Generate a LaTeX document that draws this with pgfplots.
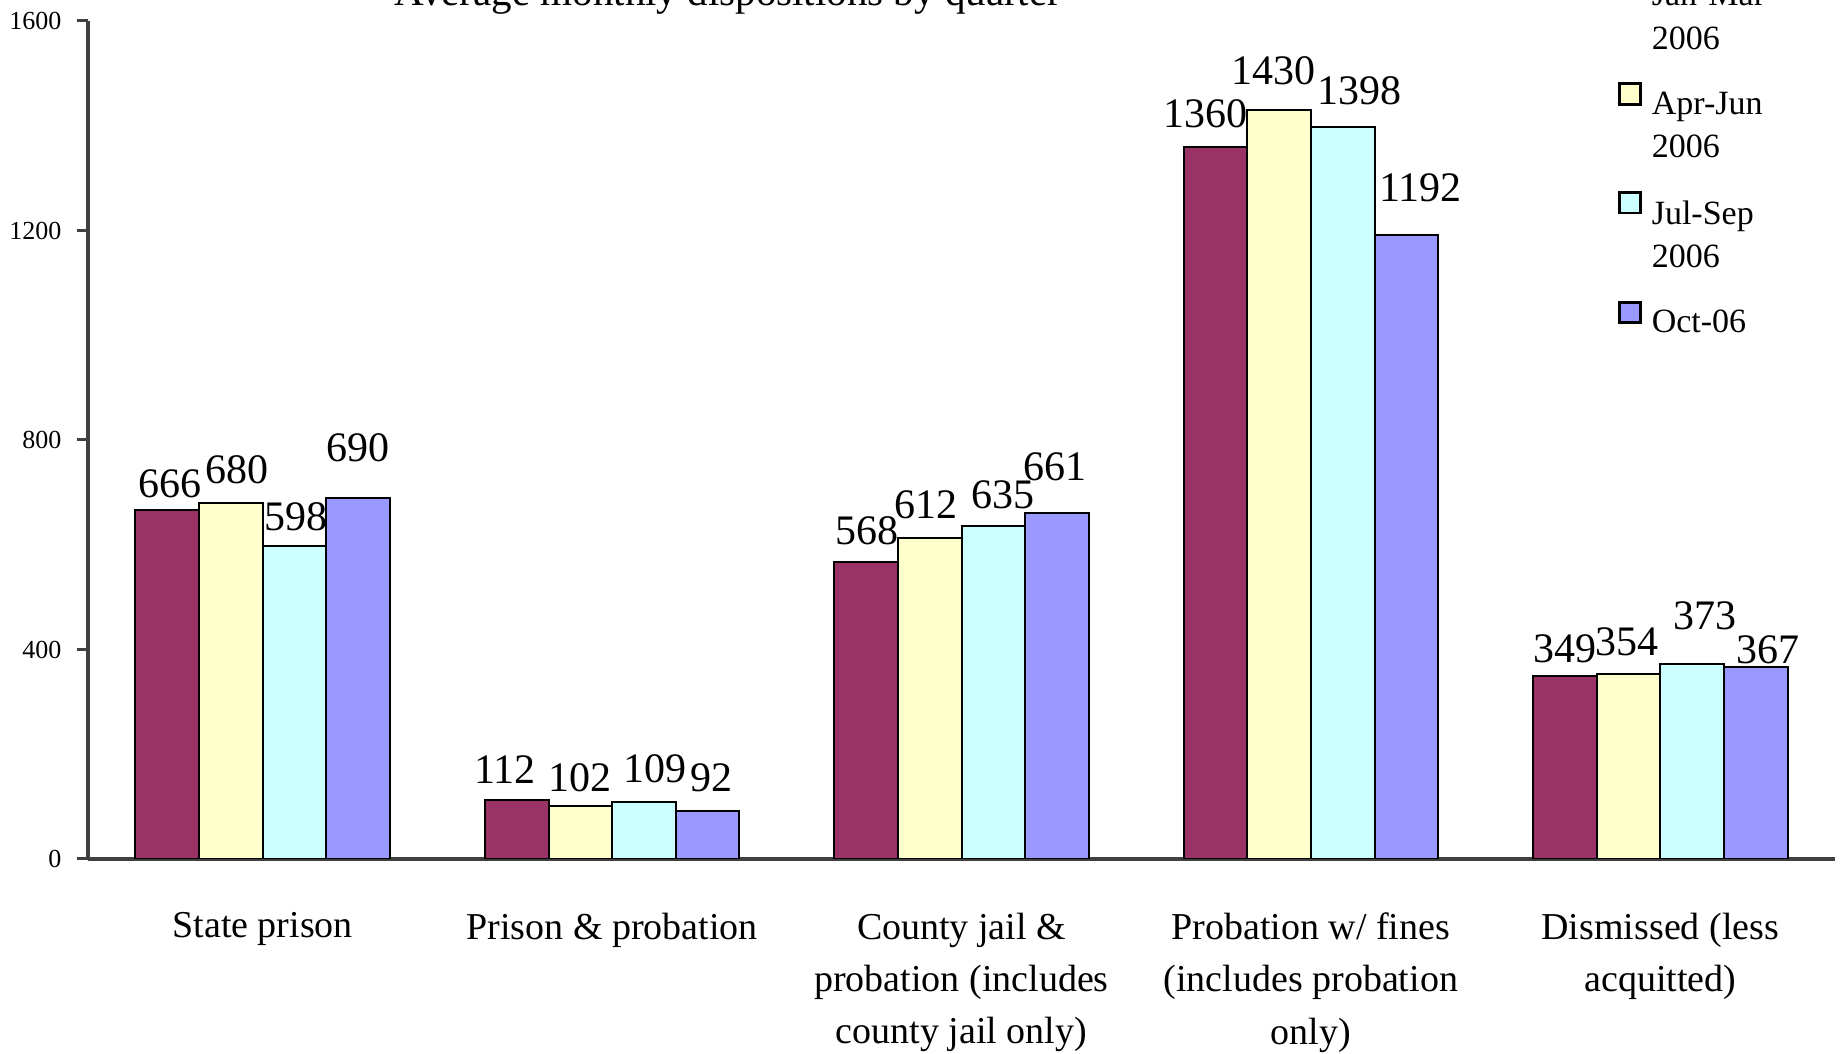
\documentclass[border=0pt]{standalone}
\usepackage{fontspec}
\setmainfont{Liberation Serif}
\usepackage{pgfplots}
\pgfplotsset{compat=1.18}
\definecolor{cA}{HTML}{993366}
\definecolor{cB}{HTML}{FFFFCC}
\definecolor{cC}{HTML}{CCFFFF}
\definecolor{cD}{HTML}{9999FF}
\definecolor{axgray}{HTML}{404040}
\begin{document}
\begin{tikzpicture}
\useasboundingbox (-44pt,-97.5pt) rectangle (877pt,429.5pt);
\begin{axis}[
  at={(0,0)}, anchor=south west,
  scale only axis, width=873.5pt, height=419pt,
  xmin=-0.5, xmax=4.5, ymin=0, ymax=1600,
  axis x line=bottom, axis y line=left,
  axis line style={axgray, line width=1.6pt, -},
  xtick={0,1,2,3,4},
  xticklabels={State prison, Prison \& probation, County jail \&\\probation (includes\\county jail only), Probation w/ fines\\(includes probation\\only), Dismissed (less\\acquitted)},
  x tick style={draw=none},
  xticklabel style={anchor=north, align=center, inner sep=0pt, yshift=-21.2pt,
    font=\fontsize{19}{26.2}\selectfont},
  ytick={0,400,800,1200,1600},
  y tick style={axgray, line width=1.5pt},
  tick align=outside, major tick length=5.5pt,
  yticklabel style={anchor=east, inner sep=0pt, xshift=-7.6pt, font=\fontsize{13}{15}\selectfont},
  /pgf/number format/assume math mode=true,
  /pgf/number format/1000 sep={},
  title={Average monthly dispositions by quarter},
  title style={at={(axis description cs:0.3663,1.0036)}, anchor=base, inner sep=0pt, yshift=0pt,
    font=\fontsize{20.5}{24}\selectfont},
  legend cell align=left,
  legend image code/.code={\draw[#1, line width=1.4pt] (0pt,-6.5pt) rectangle (10.3pt,3.8pt);},
  legend style={at={(axis description cs:0.8758,1.0566)}, anchor=north west,
    draw=none, fill=none, inner sep=0pt, row sep=15.2pt, column sep=5pt,
    font=\fontsize{17}{21.7}\selectfont,
    nodes={inner sep=0pt, align=left}, cells={anchor=north west}},
]
\addplot[ybar, bar width=31.8pt, bar shift=-47.7pt, fill=cA, draw=black, line width=1pt]
  coordinates {(0,666) (1,112) (2,568) (3,1360) (4,349)};
\addlegendentry{Jan-Mar\\2006}
\addplot[ybar, bar width=31.8pt, bar shift=-15.9pt, fill=cB, draw=black, line width=1pt]
  coordinates {(0,680) (1,102) (2,612) (3,1430) (4,354)};
\addlegendentry{Apr-Jun\\2006}
\addplot[ybar, bar width=31.8pt, bar shift=15.9pt, fill=cC, draw=black, line width=1pt]
  coordinates {(0,598) (1,109) (2,635) (3,1398) (4,373)};
\addlegendentry{Jul-Sep\\2006}
\addplot[ybar, bar width=31.8pt, bar shift=47.7pt, fill=cD, draw=black, line width=1pt]
  coordinates {(0,690) (1,92) (2,661) (3,1192) (4,367)};
\addlegendentry{Oct-06}
\addplot[forget plot, draw=none, mark=none, nodes near coords, point meta=explicit symbolic,
  every node near coord/.append style={anchor=center, inner sep=0pt, font=\fontsize{21}{24}\selectfont}]
  coordinates {
  (-0.265,715.8) [666] (-0.073,742.8) [680] (0.095,653) [598] (0.273,785.4) [690]
  (0.694,170.5) [112] (0.909,154.8) [102] (1.124,172.8) [109] (1.285,154.8) [92]
  (1.729,626) [568] (1.897,675.4) [612] (2.119,695.6) [635] (2.267,749.5) [661]
  (2.698,1422.7) [1360] (2.893,1505.7) [1430] (3.138,1467.6) [1398] (3.313,1281.3) [1192]
  (3.727,401.7) [349] (3.905,415.1) [354] (4.127,464.5) [373] (4.308,399.4) [367]
  };
\end{axis}
\end{tikzpicture}
\end{document}
